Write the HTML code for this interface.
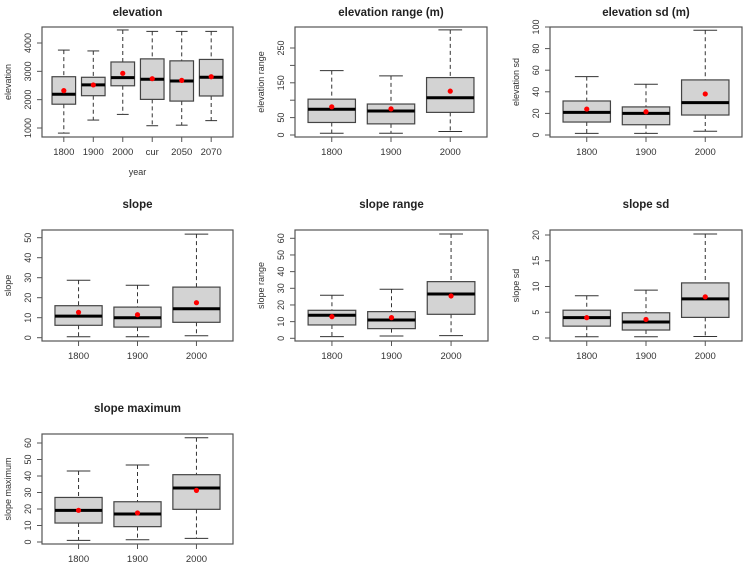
<!DOCTYPE html>
<html><head><meta charset="utf-8"><style>
html,body{margin:0;padding:0;background:#fff;}
svg{display:block;font-family:"Liberation Sans",sans-serif;}
</style></head><body>
<svg id="chart" width="744" height="566" viewBox="0 0 744 566"></svg>
<script>
// ---- data ----
const catsYear6 = ["1800","1900","2000","cur","2050","2070"];
const catsYear3 = ["1800","1900","2000"];

const elevLow  = [820,1280,1480,1080,1100,1260];
const elevQ1   = [1840,2140,2490,2010,1950,2130];
const elevMed  = [2190,2520,2780,2720,2660,2790];
const elevQ3   = [2810,2790,3330,3440,3370,3420];
const elevHigh = [3750,3720,4460,4410,4410,4410];
const elevMean = [2320,2520,2930,2740,2680,2810];
const elevTicks = [1000,2000,3000,4000];

const erLow  = [5,5,10];
const erQ1   = [36,32,65];
const erMed  = [74,69,107];
const erQ3   = [103,89,165];
const erHigh = [185,170,302];
const erMean = [81,75,126];
const erTicks = [0,50,100,150,200,250];
const erTickLabels = ["0","50","","150","","250"];

const esLow  = [1.5,1.5,3.5];
const esQ1   = [12,9.5,18.5];
const esMed  = [21,20,30];
const esQ3   = [31.5,26,51];
const esHigh = [54,47,97];
const esMean = [24,21.5,38];
const esTicks = [0,20,40,60,80,100];

const slLow  = [0.5,0.5,1];
const slQ1   = [6.2,5.3,7.7];
const slMed  = [10.8,10,14.5];
const slQ3   = [16,15.3,25.3];
const slHigh = [28.7,26.2,51.8];
const slMean = [12.7,11.5,17.5];
const slTicks = [0,10,20,30,40,50];

const srLow  = [1,1.4,1.6];
const srQ1   = [8,5.8,14.4];
const srMed  = [13.8,11,26.6];
const srQ3   = [16.8,16,34];
const srHigh = [25.8,29.4,62.6];
const srMean = [13,12.4,25.4];
const srTicks = [0,10,20,30,40,50,60];

const ssLow  = [0.25,0.25,0.3];
const ssQ1   = [2.3,1.55,4.0];
const ssMed  = [3.95,3.1,7.6];
const ssQ3   = [5.4,4.9,10.7];
const ssHigh = [8.2,9.3,20.2];
const ssMean = [3.95,3.6,8.0];
const ssTicks = [0,5,10,15,20];

const smLow  = [1,1.4,2.2];
const smQ1   = [11.5,9.3,19.8];
const smMed  = [19.2,17,32.7];
const smQ3   = [27,24.4,40.8];
const smHigh = [43,46.7,63.2];
const smMean = [19.2,17.6,31.3];
const smTicks = [0,10,20,30,40,50,60];

// ---- layout ----
const panels = [
 {key:"elevation",title:"elevation",ylab:"elevation",xlab:"year",cats:catsYear6,
  low:elevLow,q1:elevQ1,med:elevMed,q3:elevQ3,high:elevHigh,mean:elevMean,ticks:elevTicks,
  bx0:42,bx1:233,by0:27,by1:137,v0:1000,p0:128,v1:4000,p1:43,titleY:22},
 {key:"elevation-range",title:"elevation range (m)",ylab:"elevation range",cats:catsYear3,
  low:erLow,q1:erQ1,med:erMed,q3:erQ3,high:erHigh,mean:erMean,ticks:erTicks,tickLabels:erTickLabels,
  bx0:295,bx1:487,by0:27,by1:137,v0:0,p0:135,v1:250,p1:48,titleY:22},
 {key:"elevation-sd",title:"elevation sd (m)",ylab:"elevation sd",cats:catsYear3,
  low:esLow,q1:esQ1,med:esMed,q3:esQ3,high:esHigh,mean:esMean,ticks:esTicks,
  bx0:550,bx1:742,by0:27,by1:137,v0:0,p0:135,v1:100,p1:27,titleY:22},
 {key:"slope",title:"slope",ylab:"slope",cats:catsYear3,
  low:slLow,q1:slQ1,med:slMed,q3:slQ3,high:slHigh,mean:slMean,ticks:slTicks,
  bx0:42,bx1:233,by0:230,by1:341,v0:0,p0:337.7,v1:50,p1:237.7,titleY:214},
 {key:"slope-range",title:"slope range",ylab:"slope range",cats:catsYear3,
  low:srLow,q1:srQ1,med:srMed,q3:srQ3,high:srHigh,mean:srMean,ticks:srTicks,
  bx0:295,bx1:488,by0:230,by1:341,v0:0,p0:338.3,v1:60,p1:238.3,titleY:214},
 {key:"slope-sd",title:"slope sd",ylab:"slope sd",cats:catsYear3,
  low:ssLow,q1:ssQ1,med:ssMed,q3:ssQ3,high:ssHigh,mean:ssMean,ticks:ssTicks,
  bx0:550,bx1:742,by0:230,by1:341,v0:0,p0:338,v1:20,p1:235,titleY:214},
 {key:"slope-maximum",title:"slope maximum",ylab:"slope maximum",cats:catsYear3,
  low:smLow,q1:smQ1,med:smMed,q3:smQ3,high:smHigh,mean:smMean,ticks:smTicks,
  bx0:42,bx1:233,by0:434,by1:544,v0:0,p0:542,v1:60,p1:443,titleY:418}
];

const NS="http://www.w3.org/2000/svg";
const svg=document.getElementById("chart");
function mk(tag,attrs,parent){const e=document.createElementNS(NS,tag);for(const k in attrs)e.setAttribute(k,attrs[k]);(parent||svg).appendChild(e);return e;}

panels.forEach(p=>{
  const g=mk("g",{});
  
  
  const n=p.cats.length;
  const lo=0.5-0.04*n, hi=n+0.5+0.04*n;
  const xs=v=>p.bx0+(v-lo)/(hi-lo)*(p.bx1-p.bx0);
  const ys=v=>p.p0+(v-p.v0)/(p.v1-p.v0)*(p.p1-p.p0);
  const unit=(p.bx1-p.bx0)/(hi-lo);
  const hw=0.4*unit, cw=0.2*unit;
  const t=mk("text",{x:(p.bx0+p.bx1)/2,y:p.titleY-6,"text-anchor":"middle","font-size":"11.5","font-weight":"bold",fill:"#222"},g);
  t.textContent=p.title;
  
  
  const fr=mk("rect",{x:p.bx0,y:p.by0,width:p.bx1-p.bx0,height:p.by1-p.by0,fill:"none",stroke:"#555","stroke-width":"1.2"},g);
  
  
  const ya=mk("g",{},g);
  
  
  mk("line",{x1:p.bx0,x2:p.bx0,y1:ys(p.ticks[0]),y2:ys(p.ticks[p.ticks.length-1]),stroke:"#555"},ya);
  p.ticks.forEach((tv,i)=>{
    const y=ys(tv);
    mk("line",{x1:p.bx0-5,x2:p.bx0,y1:y,y2:y,stroke:"#555"},ya);
    const lab=p.tickLabels?p.tickLabels[i]:String(tv);
    if(lab){
      const tx=mk("text",{x:p.bx0-11,y:y,"text-anchor":"middle","font-size":"9",fill:"#333",transform:`rotate(-90 ${p.bx0-11} ${y})`},ya);
      tx.textContent=lab;
      
      
    }
  });
  const yl=mk("text",{x:p.bx0-31,y:(p.by0+p.by1)/2,"text-anchor":"middle","font-size":"9",fill:"#333",transform:`rotate(-90 ${p.bx0-31} ${(p.by0+p.by1)/2})`},g);
  yl.textContent=p.ylab;
  
  
  const xa=mk("g",{},g);
  
  
  mk("line",{x1:xs(1),x2:xs(n),y1:p.by1,y2:p.by1,stroke:"#555"},xa);
  p.cats.forEach((c,i)=>{
    const x=xs(i+1);
    mk("line",{x1:x,x2:x,y1:p.by1,y2:p.by1+5,stroke:"#555"},xa);
    const tx=mk("text",{x:x,y:p.by1+18,"text-anchor":"middle","font-size":"9.5",fill:"#333"},xa);
    tx.textContent=c;
    
    
  });
  if(p.xlab){
    const xl=mk("text",{x:(p.bx0+p.bx1)/2,y:p.by1+38,"text-anchor":"middle","font-size":"9",fill:"#333"},g);
    xl.textContent=p.xlab;
    
    
  }
  p.cats.forEach((c,i)=>{
    const x=xs(i+1);
    const bg=mk("g",{},g);
    
    
    mk("line",{x1:x,x2:x,y1:ys(p.high[i]),y2:ys(p.q3[i]),stroke:"#333","stroke-dasharray":"4,3"},bg);
    mk("line",{x1:x,x2:x,y1:ys(p.q1[i]),y2:ys(p.low[i]),stroke:"#333","stroke-dasharray":"4,3"},bg);
    mk("line",{x1:x-cw,x2:x+cw,y1:ys(p.high[i]),y2:ys(p.high[i]),stroke:"#333"},bg);
    mk("line",{x1:x-cw,x2:x+cw,y1:ys(p.low[i]),y2:ys(p.low[i]),stroke:"#333"},bg);
    mk("rect",{x:x-hw,y:ys(p.q3[i]),width:2*hw,height:ys(p.q1[i])-ys(p.q3[i]),fill:"#d3d3d3",stroke:"#444","stroke-width":"1.2"},bg);
    mk("line",{x1:x-hw,x2:x+hw,y1:ys(p.med[i]),y2:ys(p.med[i]),stroke:"#000","stroke-width":"3"},bg);
    const m=mk("circle",{cx:x,cy:ys(p.mean[i]),r:2.6,fill:"#f00"},bg);
    
    
  });
});
</script>
</body></html>
